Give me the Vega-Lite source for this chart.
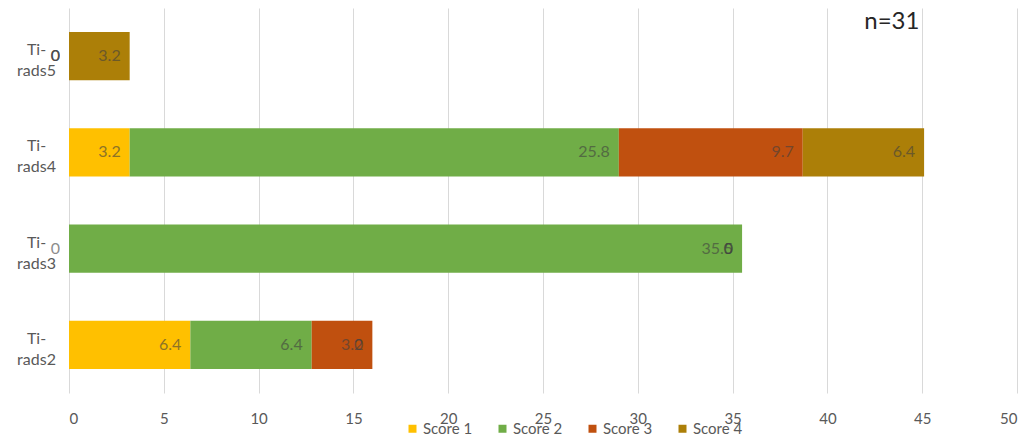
{
  "$schema": "https://vega.github.io/schema/vega-lite/v6.json",
  "autosize": {"type": "none"},
  "width": 948,
  "height": 385,
  "padding": {"left": 69, "top": 8, "right": 3, "bottom": 46},
  "background": "white",
  "config": {
    "view": {"stroke": null},
    "font": "Lato"
  },
  "datasets": {
    "scores": [
      {"cat": "Ti-rads2", "score": "Score 1", "value": 6.4},
      {"cat": "Ti-rads2", "score": "Score 2", "value": 6.4},
      {"cat": "Ti-rads2", "score": "Score 3", "value": 3.2},
      {"cat": "Ti-rads2", "score": "Score 4", "value": 0},
      {"cat": "Ti-rads3", "score": "Score 1", "value": 0},
      {"cat": "Ti-rads3", "score": "Score 2", "value": 35.5},
      {"cat": "Ti-rads3", "score": "Score 3", "value": 0},
      {"cat": "Ti-rads3", "score": "Score 4", "value": 0},
      {"cat": "Ti-rads4", "score": "Score 1", "value": 3.2},
      {"cat": "Ti-rads4", "score": "Score 2", "value": 25.8},
      {"cat": "Ti-rads4", "score": "Score 3", "value": 9.7},
      {"cat": "Ti-rads4", "score": "Score 4", "value": 6.4},
      {"cat": "Ti-rads5", "score": "Score 1", "value": 0},
      {"cat": "Ti-rads5", "score": "Score 2", "value": 0},
      {"cat": "Ti-rads5", "score": "Score 3", "value": 0},
      {"cat": "Ti-rads5", "score": "Score 4", "value": 3.2}
    ],
    "note": [{"label": "n=31", "x": 43.4, "cat": "Ti-rads5"}]
  },
  "layer": [
    {
      "data": {"name": "scores"},
      "transform": [
        {"stack": "value", "groupby": ["cat"], "sort": [{"field": "score", "order": "ascending"}], "as": ["v0", "v1"]}
      ],
      "layer": [
        {
          "mark": {"type": "bar"},
          "encoding": {
            "y": {
              "field": "cat", "type": "nominal",
              "sort": ["Ti-rads5", "Ti-rads4", "Ti-rads3", "Ti-rads2"],
              "scale": {"paddingInner": 0.5, "paddingOuter": 0.25},
              "axis": {
                "title": null, "domain": false, "ticks": false, "tickSize": 0,
                "labelAlign": "center", "labelPadding": 33, "labelFontSize": 16,
                "labelColor": "#595959", "labelLineHeight": 21, "labelBaseline": "middle",
                "labelOffset": -6,
                "labelExpr": "['Ti-', replace(datum.label, 'Ti-', '')]"
              }
            },
            "x": {
              "field": "v0", "type": "quantitative",
              "scale": {"domain": [0, 50], "nice": false},
              "axis": {
                "title": null, "domain": false, "ticks": false, "tickSize": 0,
                "values": [0, 5, 10, 15, 20, 25, 30, 35, 40, 45, 50],
                "grid": true, "gridColor": "#d9d9d9", "gridWidth": 1,
                "labelFontSize": 15, "labelColor": "#595959", "labelPadding": 18
              }
            },
            "x2": {"field": "v1"},
            "color": {
              "field": "score", "type": "nominal",
              "scale": {
                "domain": ["Score 1", "Score 2", "Score 3", "Score 4"],
                "range": ["#FFC000", "#70AD47", "#C0500F", "#AC7F08"]
              },
              "legend": {
                "title": null, "orient": "none", "direction": "horizontal",
                "legendX": 336, "legendY": 413,
                "symbolType": "square", "symbolSize": 64, "symbolStrokeWidth": 0,
                "labelFontSize": 15, "labelColor": "#595959",
                "columnPadding": 22, "labelOffset": 3
              }
            }
          }
        },
        {
          "mark": {"type": "text", "align": "right", "baseline": "middle", "dx": -9, "fontSize": 16, "color": "#404040", "opacity": 0.6},
          "encoding": {
            "y": {"field": "cat", "type": "nominal", "sort": ["Ti-rads5", "Ti-rads4", "Ti-rads3", "Ti-rads2"]},
            "x": {"field": "v1", "type": "quantitative"},
            "text": {"field": "value", "type": "quantitative", "format": "~r"}
          }
        }
      ]
    },
    {
      "data": {"name": "note"},
      "mark": {"type": "text", "fontSize": 24, "color": "#262626", "baseline": "middle", "yOffset": -34, "font": "Lato"},
      "encoding": {
        "x": {"field": "x", "type": "quantitative"},
        "y": {"field": "cat", "type": "nominal", "sort": ["Ti-rads5", "Ti-rads4", "Ti-rads3", "Ti-rads2"]},
        "text": {"field": "label"}
      }
    }
  ]
}
